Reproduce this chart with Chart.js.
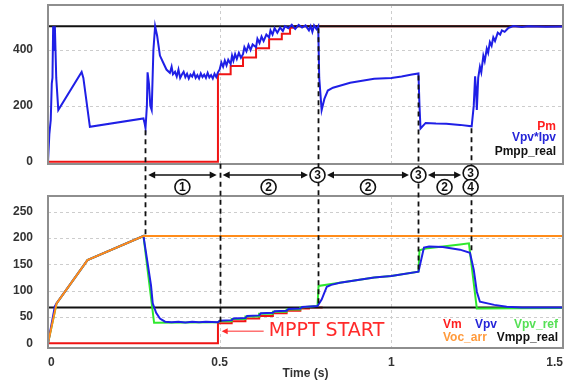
<!DOCTYPE html>
<html><head><meta charset="utf-8">
<script src="https://cdn.jsdelivr.net/npm/chart.js@4.4.0/dist/chart.umd.min.js"></script>
<style>
html,body{margin:0;padding:0;background:#fff;}
#wrap{position:relative;width:570px;height:386px;overflow:hidden;}
canvas{position:absolute;left:0;}
#c1{top:0;} #c2{top:190px;} #ov{top:0;pointer-events:none;}
</style></head><body>
<div id="wrap">
<canvas id="c1" width="570" height="170"></canvas>
<canvas id="c2" width="570" height="196"></canvas>
<canvas id="ov" width="570" height="386"></canvas>
</div>
<script>
// ---------- data (time in s) ----------
const timeTicks = [0, 0.5, 1, 1.5];
const powerTicks = [0, 200, 400];
const voltTicks = [0, 50, 100, 150, 200, 250];

const pm = [[0,0],[0.495,0],[0.495,313],[0.532,313],[0.532,343],[0.568,343],[0.568,373],[0.606,373],[0.606,406],[0.644,406],[0.644,438],[0.681,438],[0.681,458],[0.705,458],[0.705,480],[0.72,480],[0.72,485],[1.5,485]];
const vpvIpv = [[0,0],[0.004,100],[0.008,150],[0.011,280],[0.013,300],[0.015,485],[0.018,400],[0.02,485],[0.024,300],[0.03,185],[0.098,321],[0.103,300],[0.122,125],[0.278,155],[0.281,140],[0.284,120],[0.288,200],[0.29,320],[0.294,280],[0.298,200],[0.302,185],[0.307,400],[0.312,485],[0.318,450],[0.326,380],[0.335,356],[0.345,330],[0.355,318],[0.36,340],[0.364,313],[0.37,322],[0.375,305],[0.38,330],[0.385,300],[0.39,312],[0.395,322],[0.4,303],[0.405,315],[0.41,298],[0.415,312],[0.42,305],[0.425,320],[0.43,300],[0.435,310],[0.44,298],[0.445,316],[0.45,303],[0.455,312],[0.46,300],[0.465,318],[0.47,302],[0.475,310],[0.48,298],[0.485,315],[0.49,303],[0.495,320],[0.5,330],[0.505,355],[0.51,340],[0.515,362],[0.52,345],[0.525,365],[0.532,350],[0.536,380],[0.54,362],[0.545,385],[0.55,368],[0.556,390],[0.562,372],[0.568,385],[0.572,410],[0.578,395],[0.584,418],[0.59,400],[0.596,420],[0.606,410],[0.61,440],[0.616,425],[0.622,448],[0.628,432],[0.636,455],[0.644,445],[0.648,470],[0.654,455],[0.66,478],[0.668,462],[0.676,480],[0.684,468],[0.69,485],[0.7,478],[0.71,490],[0.72,475],[0.73,490],[0.74,480],[0.75,488],[0.76,470],[0.765,485],[0.77,465],[0.775,488],[0.782,475],[0.787,485],[0.79,300],[0.797,185],[0.805,225],[0.815,255],[0.83,265],[0.85,272],[0.88,283],[0.95,297],[1.0,300],[1.03,305],[1.06,312],[1.079,316],[1.082,200],[1.085,119],[1.1,139],[1.13,137],[1.16,136],[1.2,132],[1.234,127],[1.24,200],[1.244,306],[1.247,250],[1.249,185],[1.253,300],[1.258,340],[1.262,320],[1.268,379],[1.272,360],[1.278,405],[1.282,390],[1.287,428],[1.292,415],[1.297,445],[1.302,432],[1.31,462],[1.317,455],[1.322,470],[1.33,465],[1.34,478],[1.355,486],[1.38,482],[1.4,485],[1.45,483],[1.5,484]];
const pmppReal = [[0,485],[1.5,485]];

const vm = [[0,0],[0.495,0],[0.495,38],[0.535,38],[0.535,42],[0.575,42],[0.575,47],[0.615,47],[0.615,52],[0.655,52],[0.655,57],[0.695,57],[0.695,62],[0.735,62],[0.735,66],[0.76,66],[0.76,68],[0.8,68]];
const vpv = [[0,0],[0.02,70],[0.025,76],[0.115,158],[0.278,204],[0.3,110],[0.305,76],[0.315,58],[0.326,47],[0.341,41],[0.36,40],[0.38,41],[0.4,39.5],[0.42,41],[0.44,40],[0.46,41],[0.495,40],[0.5,43],[0.535,44],[0.54,47],[0.575,48],[0.58,52],[0.615,53],[0.62,57],[0.655,58],[0.66,61],[0.695,62],[0.7,65],[0.735,66],[0.74,69],[0.785,71],[0.797,83],[0.812,107.5],[0.825,111],[0.85,115],[0.95,125],[1.0,128],[1.079,136],[1.095,182],[1.11,184],[1.15,183],[1.2,178],[1.229,172],[1.24,140],[1.249,98],[1.258,79],[1.3,73],[1.336,69.5],[1.38,68],[1.5,68]];
const vpvRef = [[0,0],[0.025,76],[0.115,158],[0.278,204],[0.309,39],[0.495,40],[0.5,42],[0.535,42],[0.535,46],[0.575,46],[0.575,51],[0.615,51],[0.615,56],[0.655,56],[0.655,60],[0.695,60],[0.695,64],[0.735,64],[0.735,68],[0.785,71],[0.788,109],[0.85,115],[0.95,125],[1.0,128],[1.079,136],[1.082,177],[1.1,180],[1.15,184],[1.2,188],[1.226,190],[1.249,66],[1.5,67]];
const vocArr = [[0,0],[0.025,76],[0.115,158],[0.278,204],[1.5,204]];
const vmppReal = [[0,68],[1.5,68]];

// annotation marks (time, value on top plot, value on bottom plot)
const markTimes = [0.283, 0.5, 0.785, 1.079, 1.231];
const markTopValues = [120, 0, 485, 316, 127];
const markBottomValues = [204, 40, 71, 136, 171];
const phaseLabels = ['1', '2', '2', '2'];

// ---------- helpers ----------
const pts = a => a.map(p => ({x: p[0], y: p[1]}));
const FONT = '"Liberation Sans", Arial, sans-serif';
function ds(label, data, color, w) {
  return {label, data: pts(data), borderColor: color, backgroundColor: color,
    borderWidth: w || 2, pointRadius: 0, tension: 0, fill: false};
}
function zeroPad(axis) { axis.paddingLeft = 0; axis.paddingRight = 0; axis.paddingTop = 0; axis.paddingBottom = 0; }

const framePlugin = {
  id: 'frame',
  beforeDatasetsDraw(chart, args, o) {
    const {ctx, chartArea: a, scales: {x, y}} = chart;
    ctx.save();
    ctx.strokeStyle = '#cdcdcd'; ctx.lineWidth = 1; ctx.setLineDash([3, 3]);
    o.yGrid.forEach(v => { const p = Math.round(y.getPixelForValue(v)) + 0.5;
      ctx.beginPath(); ctx.moveTo(a.left, p); ctx.lineTo(a.right, p); ctx.stroke(); });
    o.xGrid.forEach(v => { const p = Math.round(x.getPixelForValue(v)) + 0.5;
      ctx.beginPath(); ctx.moveTo(p, a.top); ctx.lineTo(p, a.bottom); ctx.stroke(); });
    ctx.restore();
  },
  afterDatasetsDraw(chart, args, o) {
    const {ctx, chartArea: a} = chart;
    ctx.save();
    ctx.strokeStyle = '#8e8e8e'; ctx.lineWidth = 2;
    ctx.strokeRect(a.left, a.top, a.right - a.left, a.bottom - a.top);
    ctx.font = 'bold 12px ' + FONT; ctx.textBaseline = 'middle';
    (o.legend || []).forEach(l => {
      ctx.fillStyle = l.color; ctx.textAlign = l.align;
      ctx.fillText(l.text, a.right + l.dx, a.bottom + l.dy);
    });
    ctx.restore();
  }
};

function baseOptions(yMin, yMax, yTicks, showX) {
  return {
    responsive: false, animation: false, events: [],
    layout: {padding: {left: 0, right: 7, top: showX ? 6 : 5, bottom: showX ? 0 : 6}},
    plugins: {legend: {display: false}, tooltip: {enabled: false}},
    scales: {
      x: {type: 'linear', min: 0, max: 1.5,
        afterBuildTicks: ax => { ax.ticks = timeTicks.map(v => ({value: v})); },
        afterFit: ax => { ax.height = showX ? 38 : 0; zeroPad(ax); },
        grid: {display: false, drawTicks: false}, border: {display: false},
        ticks: {display: showX, padding: 7, color: '#333', maxRotation: 0, align: 'inner',
          callback: v => String(v),
          font: {family: FONT, size: 12, weight: 'bold'}},
        title: {display: showX, text: 'Time (s)', color: '#333',
          font: {family: FONT, size: 12, weight: 'bold'}, padding: {top: 0, bottom: 5}}
      },
      y: {type: 'linear', min: yMin, max: yMax,
        afterBuildTicks: ax => { ax.ticks = yTicks.map(v => ({value: v})); },
        afterFit: ax => { ax.width = 48; zeroPad(ax); },
        grid: {display: false, drawTicks: false}, border: {display: false},
        ticks: {padding: 15, color: '#333', font: {family: FONT, size: 12, weight: 'bold'}}
      }
    }
  };
}

// ---------- top chart ----------
const o1 = baseOptions(-8, 561, powerTicks, false);
o1.plugins.frame = {yGrid: [200, 400], xGrid: [0.5, 1],
  legend: [
    {text: 'Pm', color: '#ff1e1e', align: 'right', dx: -7, dy: -37},
    {text: 'Vpv*Ipv', color: '#2525d8', align: 'right', dx: -7, dy: -26},
    {text: 'Pmpp_real', color: '#111', align: 'right', dx: -7, dy: -12}
  ]};
const chartTop = new Chart(document.getElementById('c1'), {
  type: 'line',
  data: {datasets: [
    ds('Vpv*Ipv', vpvIpv, '#1f1fe6'),
    ds('Pmpp_real', pmppReal, '#111111'),
    ds('Pm', pm, '#f01414')
  ]},
  options: o1, plugins: [framePlugin]
});

// ---------- bottom chart ----------
const o2 = baseOptions(-9, 280, voltTicks, true);
o2.plugins.frame = {yGrid: [50, 100, 150, 200, 250], xGrid: [0.5, 1],
  legend: [
    {text: 'Vm', color: '#ff1e1e', align: 'left', dx: -120, dy: -23},
    {text: 'Vpv', color: '#2525d8', align: 'left', dx: -88, dy: -23},
    {text: 'Vpv_ref', color: '#55e055', align: 'right', dx: -5, dy: -23},
    {text: 'Voc_arr', color: '#ff9a3c', align: 'left', dx: -120, dy: -10},
    {text: 'Vmpp_real', color: '#111', align: 'right', dx: -5, dy: -10}
  ]};
const chartBot = new Chart(document.getElementById('c2'), {
  type: 'line',
  data: {datasets: [
    ds('Voc_arr', vocArr, '#ff8c1a'),
    ds('Vpv', vpv, '#1f1fe6'),
    ds('Vpv_ref', vpvRef, '#2ee82e'),
    ds('Vmpp_real', vmppReal, '#111111'),
    ds('Vm', vm, '#f01414')
  ]},
  options: o2, plugins: [framePlugin]
});

// ---------- overlay annotations ----------
const OFF2 = 190;
const ov = document.getElementById('ov').getContext('2d');
const X = t => chartTop.scales.x.getPixelForValue(t);
const YT = v => chartTop.scales.y.getPixelForValue(v);
const YB = v => chartBot.scales.y.getPixelForValue(v) + OFF2;

ov.strokeStyle = '#111'; ov.lineWidth = 1.8; ov.setLineDash([5, 4]);
markTimes.forEach((t, i) => {
  const px = Math.round(X(t)) + 0.5;
  ov.beginPath(); ov.moveTo(px, YT(markTopValues[i]) + 2); ov.lineTo(px, YB(markBottomValues[i])); ov.stroke();
});
ov.setLineDash([]);

const arrowY = 175, labelY = 187, R = 7.5;
function head(x, y, dir) {
  ov.beginPath(); ov.moveTo(x, y); ov.lineTo(x - dir * 7, y - 3.5); ov.lineTo(x - dir * 7, y + 3.5); ov.closePath(); ov.fill();
}
function arrow(x1, x2, y) {
  ov.beginPath(); ov.moveTo(x1 + 3, y); ov.lineTo(x2 - 3, y); ov.stroke();
  head(x1, y, -1); head(x2, y, 1);
}
function circ(x, y, txt) {
  ov.beginPath(); ov.arc(x, y, R, 0, Math.PI * 2); ov.fillStyle = '#fff'; ov.fill();
  ov.lineWidth = 1.6; ov.strokeStyle = '#111'; ov.stroke();
  ov.fillStyle = '#111'; ov.font = 'bold 12px ' + FONT; ov.textAlign = 'center'; ov.textBaseline = 'middle';
  ov.fillText(txt, x, y + 0.5);
}
ov.fillStyle = '#111'; ov.strokeStyle = '#111'; ov.lineWidth = 1.6;
const xs = markTimes.map(X);
arrow(xs[0] + 3, xs[1] - 3, arrowY);
arrow(xs[1] + 3, xs[2] - R - 2, arrowY);
arrow(xs[2] + R + 2, xs[3] - R - 2, arrowY);
arrow(xs[3] + R + 2, xs[4] - R - 2, arrowY);
for (let i = 0; i < 4; i++) circ((xs[i] + xs[i + 1]) / 2, labelY, phaseLabels[i]);
circ(xs[2], arrowY, '3');
circ(xs[3], arrowY, '3');
circ(xs[4], arrowY - 2, '3');
circ(xs[4], labelY, '4');

// MPPT START label
const my = YB(23);
ov.strokeStyle = '#ff2a2a'; ov.fillStyle = '#ff2a2a'; ov.lineWidth = 1;
ov.beginPath(); ov.moveTo(xs[1] + 44, my); ov.lineTo(xs[1] + 4, my); ov.stroke();
ov.beginPath(); ov.moveTo(xs[1] + 2, my); ov.lineTo(xs[1] + 8, my - 3); ov.lineTo(xs[1] + 8, my + 3); ov.closePath(); ov.fill();
ov.font = '19px "DejaVu Sans", sans-serif'; ov.textAlign = 'left'; ov.textBaseline = 'middle';
ov.fillText('MPPT START', xs[1] + 49, my);
</script>
</body></html>
